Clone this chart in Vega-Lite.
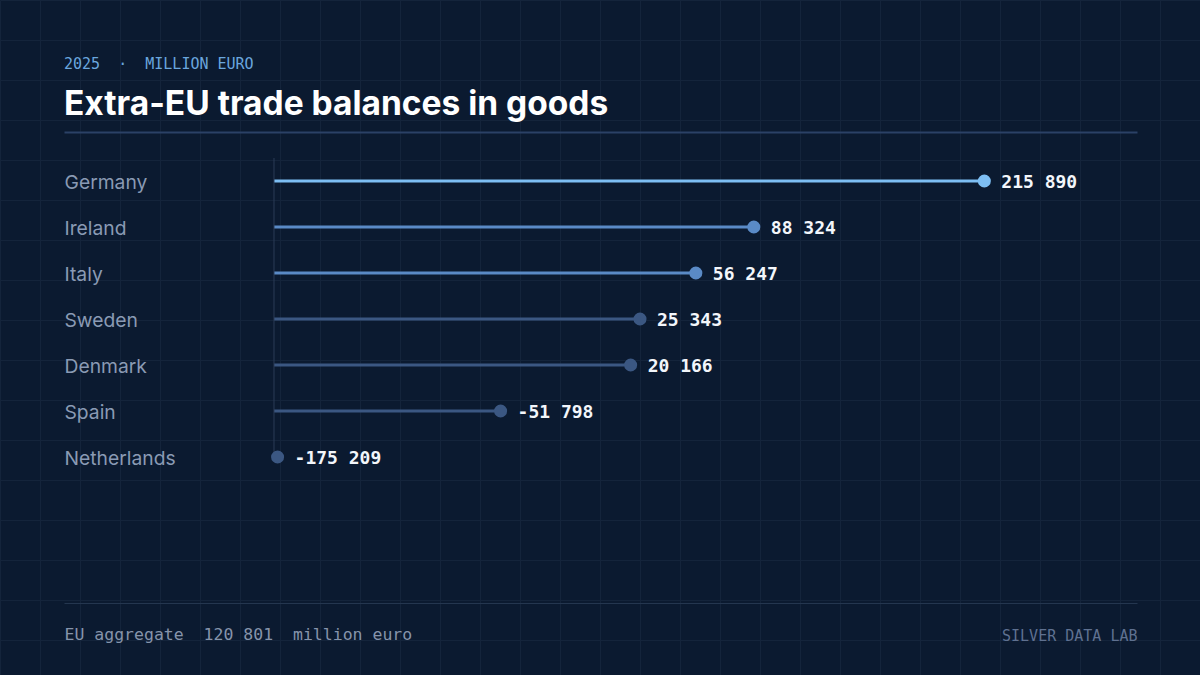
{
  "$schema": "https://vega.github.io/schema/vega-lite/v6.json",
  "width": 1073,
  "height": 322,
  "autosize": {"type": "none"},
  "padding": {"left": 64, "top": 158, "right": 63, "bottom": 195},
  "background": "#0b1a30",
  "title": {
    "text": "2025\u00a0 ·\u00a0 MILLION EURO",
    "subtitle": "Extra-EU trade balances in goods",
    "anchor": "start",
    "frame": "group",
    "font": "DejaVu Sans Mono",
    "fontSize": 15,
    "fontWeight": "normal",
    "color": "#6aa6de",
    "subtitleFont": "Inter",
    "subtitleFontSize": 33.5,
    "subtitleFontWeight": 700,
    "subtitleColor": "#ffffff",
    "subtitlePadding": 17,
    "offset": 11
  },
  "config": {
    "view": {"stroke": null},
    "locale": {
      "number": {"decimal": ".", "thousands": " ", "grouping": [3], "currency": ["", ""], "minus": "-"}
    }
  },
  "data": {"values": [
    {"country": "Germany", "value": 215890},
    {"country": "Ireland", "value": 88324},
    {"country": "Italy", "value": 56247},
    {"country": "Sweden", "value": 25343},
    {"country": "Denmark", "value": 20166},
    {"country": "Spain", "value": -51798},
    {"country": "Netherlands", "value": -175209}
  ]},
  "resolve": {"scale": {"x": "independent", "y": "independent", "color": "independent"}},
  "layer": [
    {
      "data": {"values": []},
      "mark": {"type": "point", "opacity": 0},
      "encoding": {
        "x": {
          "field": "gx", "type": "quantitative",
          "scale": {"domain": [0, 1200], "range": [-64, 1136], "nice": false, "zero": false},
          "axis": {"orient": "top", "values": [0,40,80,120,160,200,240,280,320,360,400,440,480,520,560,600,640,680,720,760,800,840,880,920,960,1000,1040,1080,1120,1160,1200],
                   "grid": true, "gridColor": "#14243b", "gridWidth": 1, "labels": false, "ticks": false, "domain": false, "title": null}
        },
        "y": {
          "field": "gy", "type": "quantitative",
          "scale": {"domain": [0, 675], "range": [-158, 517], "nice": false, "zero": false},
          "axis": {"orient": "left", "values": [0,40,80,120,160,200,240,280,320,360,400,440,480,520,560,600,640],
                   "grid": true, "gridColor": "#14243b", "gridWidth": 1, "labels": false, "ticks": false, "domain": false, "title": null}
        }
      }
    },
    {
      "mark": {"type": "rule", "strokeWidth": 3},
      "encoding": {
        "x": {
          "field": "value", "type": "quantitative",
          "scale": {"domain": [-293400, 300370], "nice": false, "zero": false},
          "axis": {"orient": "top", "offset": 26, "domain": true, "domainColor": "#2b4166", "domainWidth": 2,
                   "labels": false, "ticks": false, "grid": false, "title": null}
        },
        "x2": {"datum": -177200},
        "y": {
          "field": "country", "type": "nominal",
          "scale": {"type": "band", "domain": ["Germany", "Ireland", "Italy", "Sweden", "Denmark", "Spain", "Netherlands"], "paddingInner": 0, "paddingOuter": 0},
          "axis": {"orient": "left", "domain": false, "ticks": false, "tickSize": 0, "grid": false, "title": null,
                   "labelAlign": "left", "labelPadding": 0, "labelBaseline": "middle", "labelOffset": 2, "labelFont": "Inter",
                   "labelFontSize": 19.3, "labelColor": "#8a9ab4"}
        },
        "color": {
          "field": "value", "type": "quantitative",
          "scale": {"type": "threshold", "domain": [50000, 100000], "range": ["#3b5782", "#5a8ac6", "#7dbef3"]},
          "legend": null
        }
      }
    },
    {
      "data": {"values": [{"base": -177200}]},
      "mark": {"type": "rule", "color": "#2b3c57", "strokeWidth": 1},
      "encoding": {
        "x": {"field": "base", "type": "quantitative", "scale": {"domain": [-293400, 300370], "nice": false, "zero": false}, "axis": null},
        "y": {"datum": "Germany", "type": "nominal", "bandPosition": 0,
              "scale": {"type": "band", "domain": ["Germany", "Ireland", "Italy", "Sweden", "Denmark", "Spain", "Netherlands"], "paddingInner": 0, "paddingOuter": 0},
              "axis": null},
        "y2": {"datum": "Netherlands"}
      }
    },
    {
      "mark": {"type": "circle", "size": 170, "opacity": 1},
      "encoding": {
        "x": {"field": "value", "type": "quantitative", "scale": {"domain": [-293400, 300370], "nice": false, "zero": false}, "axis": null},
        "y": {"field": "country", "type": "nominal",
              "scale": {"type": "band", "domain": ["Germany", "Ireland", "Italy", "Sweden", "Denmark", "Spain", "Netherlands"], "paddingInner": 0, "paddingOuter": 0},
              "axis": null},
        "color": {
          "field": "value", "type": "quantitative",
          "scale": {"type": "threshold", "domain": [50000, 100000], "range": ["#3b5782", "#5a8ac6", "#7dbef3"]},
          "legend": null
        }
      }
    },
    {
      "mark": {"type": "text", "align": "left", "baseline": "middle", "dx": 17, "dy": 2,
               "font": "DejaVu Sans Mono", "fontSize": 18, "fontWeight": "bold", "color": "#f3f6fb"},
      "encoding": {
        "x": {"field": "value", "type": "quantitative", "scale": {"domain": [-293400, 300370], "nice": false, "zero": false}, "axis": null},
        "y": {"field": "country", "type": "nominal",
              "scale": {"type": "band", "domain": ["Germany", "Ireland", "Italy", "Sweden", "Denmark", "Spain", "Netherlands"], "paddingInner": 0, "paddingOuter": 0},
              "axis": null},
        "text": {"field": "value", "type": "quantitative", "format": ",.0f"}
      }
    },
    {
      "data": {"values": []},
      "mark": {"type": "point", "opacity": 0},
      "encoding": {
        "x": {
          "field": "f", "type": "quantitative",
          "scale": {"domain": [0, 1], "nice": false, "zero": false},
          "axis": {"orient": "bottom", "offset": 123, "domain": true, "domainColor": "#24364f", "domainWidth": 1,
                   "labels": false, "ticks": false, "grid": false,
                   "title": "EU aggregate\u00a0 120 801\u00a0 million euro",
                   "titleAnchor": "start", "titleAlign": "left", "titleBaseline": "top", "titlePadding": 23,
                   "titleFont": "DejaVu Sans Mono", "titleFontSize": 16.5, "titleFontWeight": "normal", "titleColor": "#8694ab"}
        }
      }
    },
    {
      "data": {"values": []},
      "mark": {"type": "point", "opacity": 0},
      "encoding": {
        "x": {
          "field": "g", "type": "quantitative",
          "scale": {"domain": [0, 1], "nice": false, "zero": false},
          "axis": {"orient": "bottom", "offset": 123, "domain": false,
                   "labels": false, "ticks": false, "grid": false,
                   "title": "SILVER DATA LAB",
                   "titleAnchor": "end", "titleAlign": "right", "titleBaseline": "top", "titlePadding": 25,
                   "titleFont": "DejaVu Sans Mono", "titleFontSize": 15, "titleFontWeight": "normal", "titleColor": "#5f7190"}
        }
      }
    }
  ]
}
